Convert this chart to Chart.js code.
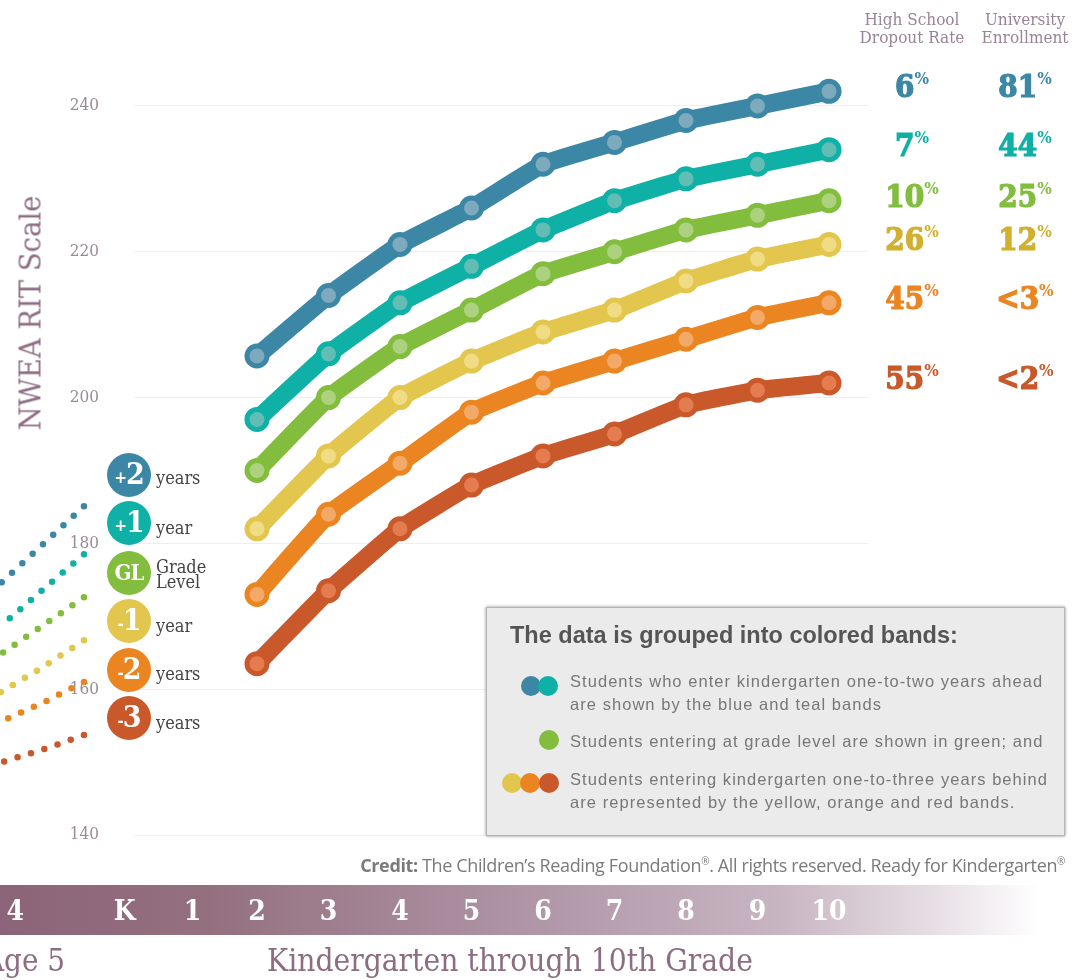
<!DOCTYPE html>
<html>
<head>
<meta charset="utf-8">
<script src="https://cdn.jsdelivr.net/npm/chart.js@4"></script>
<style>
    html, body { margin: 0; padding: 0; background: #fff; overflow: hidden; }
    #wrap { position: relative; width: 1085px; height: 980px; overflow: hidden; }
    canvas { position: absolute; left: 0; top: 0; }
    .slab { position: absolute; font-family: 'DejaVu Serif Condensed', 'DejaVu Serif', serif; white-space: nowrap; }
    .head { color: #9a8497; font-size: 17px; line-height: 18px; text-align: center; transform: translateX(-50%); top: 10px; }
    .mauve { color: #8d6d82; }
    .icon { position: absolute; left: 107px; width: 44px; height: 44px; border-radius: 50%; color: #fff; text-align: center;
            font: bold 30px/42px 'DejaVu Serif Condensed', 'DejaVu Serif', serif; letter-spacing: -1px; }
    .icon small { font-size: 17px; vertical-align: 1px; }
    .iconText { color: #444; font-size: 18px; line-height: 15px; left: 156px; }
    #box { position: absolute; left: 486px; top: 607px; width: 577px; height: 227px; background: #ebebeb; border: 1px solid #b5b5b5;
           box-shadow: 0 0 3px #888; font-family: 'Liberation Sans', Arial, sans-serif; color: #777; }
    #box .t { position: absolute; left: 23px; top: 14px; font-size: 23.5px; font-weight: bold; color: #555; white-space: nowrap; }
    #box .l { position: absolute; left: 83px; font-size: 16.5px; letter-spacing: 1.05px; line-height: 23px; white-space: nowrap; }
    #box i { position: absolute; width: 20px; height: 20px; border-radius: 50%; }
    #credit { position: absolute; right: 20px; top: 853px; font: 18px 'Open Sans', sans-serif; color: #7a7a7a; letter-spacing: -0.37px; white-space: nowrap; }
    #credit sup { font-size: 10px; line-height: 0; }
</style>
</head>
<body>
<div id="wrap">
    <canvas id="ritChart" width="1085" height="980"></canvas>

    <div class="slab head" style="left:912px">High School<br>Dropout Rate</div>
    <div class="slab head" style="left:1025px">University<br>Enrollment</div>

    <div class="slab mauve" style="left:30px;top:313px;font-size:30.5px;transform:translate(-50%,-50%) rotate(-90deg)">NWEA RIT Scale</div>
    <div class="slab mauve" style="right:1020px;top:942px;font-size:31px">Age 5</div>
    <div class="slab mauve" style="left:510px;top:942px;font-size:31.4px;transform:translateX(-50%)">Kindergarten through 10th Grade</div>

    <div class="icon" style="top:453px;background:#3d87a6"><small>+</small>2</div>
    <div class="icon" style="top:501px;background:#0fb0a6"><small>+</small>1</div>
    <div class="icon" style="top:551px;background:#82bd3e;font-size:22px">GL</div>
    <div class="icon" style="top:599px;background:#e3c64d"><small>-</small>1</div>
    <div class="icon" style="top:648px;background:#ea8522"><small>-</small>2</div>
    <div class="icon" style="top:696px;background:#c9582a"><small>-</small>3</div>
    <div class="slab iconText" style="top:470px">years</div>
    <div class="slab iconText" style="top:520px">year</div>
    <div class="slab iconText" style="top:559px">Grade<br>Level</div>
    <div class="slab iconText" style="top:618px">year</div>
    <div class="slab iconText" style="top:666px">years</div>
    <div class="slab iconText" style="top:715px">years</div>

    <div id="box">
        <div class="t">The data is grouped into colored bands:</div>
        <i style="left:34px;top:68px;background:#3d87a6"></i><i style="left:51px;top:68px;background:#0fb0a6"></i>
        <div class="l" style="top:62px">Students who enter kindergarten one-to-two years ahead<br>are shown by the blue and teal bands</div>
        <i style="left:52px;top:122px;background:#82bd3e"></i>
        <div class="l" style="top:122px">Students entering at grade level are shown in green; and</div>
        <i style="left:15px;top:165px;background:#e3c64d"></i><i style="left:33px;top:165px;background:#ea8522"></i><i style="left:52px;top:165px;background:#c9582a"></i>
        <div class="l" style="top:160px">Students entering kindergarten one-to-three years behind<br>are represented by the yellow, orange and red bands.</div>
    </div>
    <div id="credit"><b>Credit:</b> The Children’s Reading Foundation<sup>®</sup>. All rights reserved. Ready for Kindergarten<sup>®</sup></div>
</div>

<script>
const grades = [2, 3, 4, 5, 6, 7, 8, 9, 10];
const blueBand = [205.7, 214, 221, 226, 232, 235, 238, 240, 242];
const tealBand = [197, 206, 213, 218, 223, 227, 230, 232, 234];
const greenBand = [190, 200, 207, 212, 217, 220, 223, 225, 227];
const yellowBand = [182, 192, 200, 205, 209, 212, 216, 219, 221];
const orangeBand = [173, 184, 191, 198, 202, 205, 208, 211, 213];
const redBand = [163.5, 173.5, 182, 188, 192, 195, 199, 201, 202];

// the dotted run-up before school starts, listed right to left:
// sorted x lets Chart.js drop the points left of the axis minimum
const preGrades = [-0.42, -1, -1.6];
const bluePre = [185.1, 179.8, 174.4];
const tealPre = [178.5, 173.6, 168.5];
const greenPre = [172.6, 168.7, 164.7];
const yellowPre = [166.7, 163, 159.5];
const orangePre = [161, 158.1, 155.5];
const redPre = [153.7, 151.7, 149.9];

const tickValues = [-1.38, 0.15, 1.1, 2, 3, 4, 5, 6, 7, 8, 9, 10];
const tickLabels = ['4', 'K', '1', '2', '3', '4', '5', '6', '7', '8', '9', '10'];

const dropoutRates = ['6', '7', '10', '26', '45', '55'];
const enrollmentRates = ['81', '44', '25', '12', '<3', '<2'];

const bandColors = ['#3d87a6', '#0fb0a6', '#82bd3e', '#e3c64d', '#ea8522', '#c9582a'];
const innerColors = ['#7dabbd', '#62bdb5', '#add27f', '#f0dc85', '#f3aa68', '#e57c50'];
const rateColors = ['#3d87a6', '#0fb0a6', '#82bd3e', '#d2b02f', '#ea8522', '#c9582a'];

const bands = [blueBand, tealBand, greenBand, yellowBand, orangeBand, redBand];
const pres = [bluePre, tealPre, greenPre, yellowPre, orangePre, redPre];

const mainSets = bands.map(function (band, i) {
    return {
        label: 'Band ' + (i + 1),
        data: band.map((v, k) => ({ x: grades[k], y: v })),
        borderColor: bandColors[i],
        backgroundColor: bandColors[i],
        borderWidth: 18,
        borderJoinStyle: 'round',
        tension: 0.1,
        pointRadius: 10,
        pointBorderWidth: 5,
        pointBackgroundColor: innerColors[i],
        pointBorderColor: bandColors[i],
        clip: false
    };
});

const dotSets = pres.map(function (pre, i) {
    return {
        label: 'Pre ' + (i + 1),
        data: pre.map((v, k) => ({ x: preGrades[k], y: v })),
        borderColor: bandColors[i],
        borderWidth: 6.5,
        borderCapStyle: 'round',
        borderDash: [0, 14],
        pointRadius: 0,
        clip: false
    };
});

const bandPlugin = {
    id: 'gradeBand',
    beforeDraw(chart) {
        const c = chart.ctx;
        const g = c.createLinearGradient(0, 0, 1040, 0);
        g.addColorStop(0, '#8c6479');
        g.addColorStop(0.2, '#94707f');
        g.addColorStop(0.5, '#ae94a5');
        g.addColorStop(0.75, '#c8b5c2');
        g.addColorStop(0.9, '#e7dfe5');
        g.addColorStop(1, '#ffffff');
        c.save();
        c.fillStyle = g;
        c.fillRect(0, 885, 1040, 50);
        c.restore();
    }
};

const ratesPlugin = {
    id: 'rates',
    afterDraw(chart) {
        const c = chart.ctx;
        const y = chart.scales.y;
        const big = 'bold 31px "DejaVu Serif Condensed", "DejaVu Serif", serif';
        const small = 'bold 17px "DejaVu Serif Condensed", "DejaVu Serif", serif';
        function putRate(text, cx, py, color) {
            c.font = big;
            const w1 = c.measureText(text).width;
            c.font = small;
            const w2 = c.measureText('%').width;
            const left = cx - (w1 + w2) / 2;
            c.fillStyle = color;
            c.strokeStyle = color;
            c.lineWidth = 1.2;
            c.textBaseline = 'alphabetic';
            c.textAlign = 'left';
            c.font = big;
            c.fillText(text, left, py + 12);
            c.strokeText(text, left, py + 12);
            c.font = small;
            c.fillText('%', left + w1, py - 1);
        }
        c.save();
        bands.forEach(function (band, i) {
            const py = y.getPixelForValue(band[band.length - 1]) - 6;
            putRate(dropoutRates[i], 912, py, rateColors[i]);
            putRate(enrollmentRates[i], 1025, py, rateColors[i]);
        });
        c.restore();
    }
};

const ctx = document.getElementById('ritChart').getContext('2d');
new Chart(ctx, {
    type: 'line',
    data: { datasets: mainSets.concat(dotSets) },
    plugins: [bandPlugin, ratesPlugin],
    options: {
        responsive: false,
        animation: false,
        layout: { padding: { top: 69.5, right: 217, left: 0, bottom: 0 } },
        plugins: { legend: { display: false }, tooltip: { enabled: false } },
        scales: {
            x: {
                type: 'linear',
                min: 0.294,
                max: 10.545,
                grid: { display: false },
                border: { display: false },
                afterBuildTicks: function (scale) {
                    scale.ticks = tickValues.map(v => ({ value: v }));
                },
                afterFit: function (scale) {
                    scale.height = 145;
                    // the far-left ticks must not push the plot area in
                    scale.paddingLeft = 0;
                    scale.paddingRight = 0;
                },
                ticks: {
                    autoSkip: false,
                    maxRotation: 0,
                    padding: 53,
                    color: '#ffffff',
                    font: { family: '"DejaVu Serif Condensed", "DejaVu Serif", serif', size: 28, weight: 'bold' },
                    callback: function (value, i) { return tickLabels[i]; }
                }
            },
            y: {
                min: 140,
                max: 245,
                grid: { color: '#eeeeee', drawTicks: false },
                border: { display: false },
                afterFit: function (scale) { scale.width = 135; },
                ticks: {
                    stepSize: 20,
                    includeBounds: false,
                    padding: 36,
                    color: '#9b8a96',
                    font: { family: '"DejaVu Serif Condensed", "DejaVu Serif", serif', size: 17 }
                }
            }
        }
    }
});
</script>
</body>
</html>
